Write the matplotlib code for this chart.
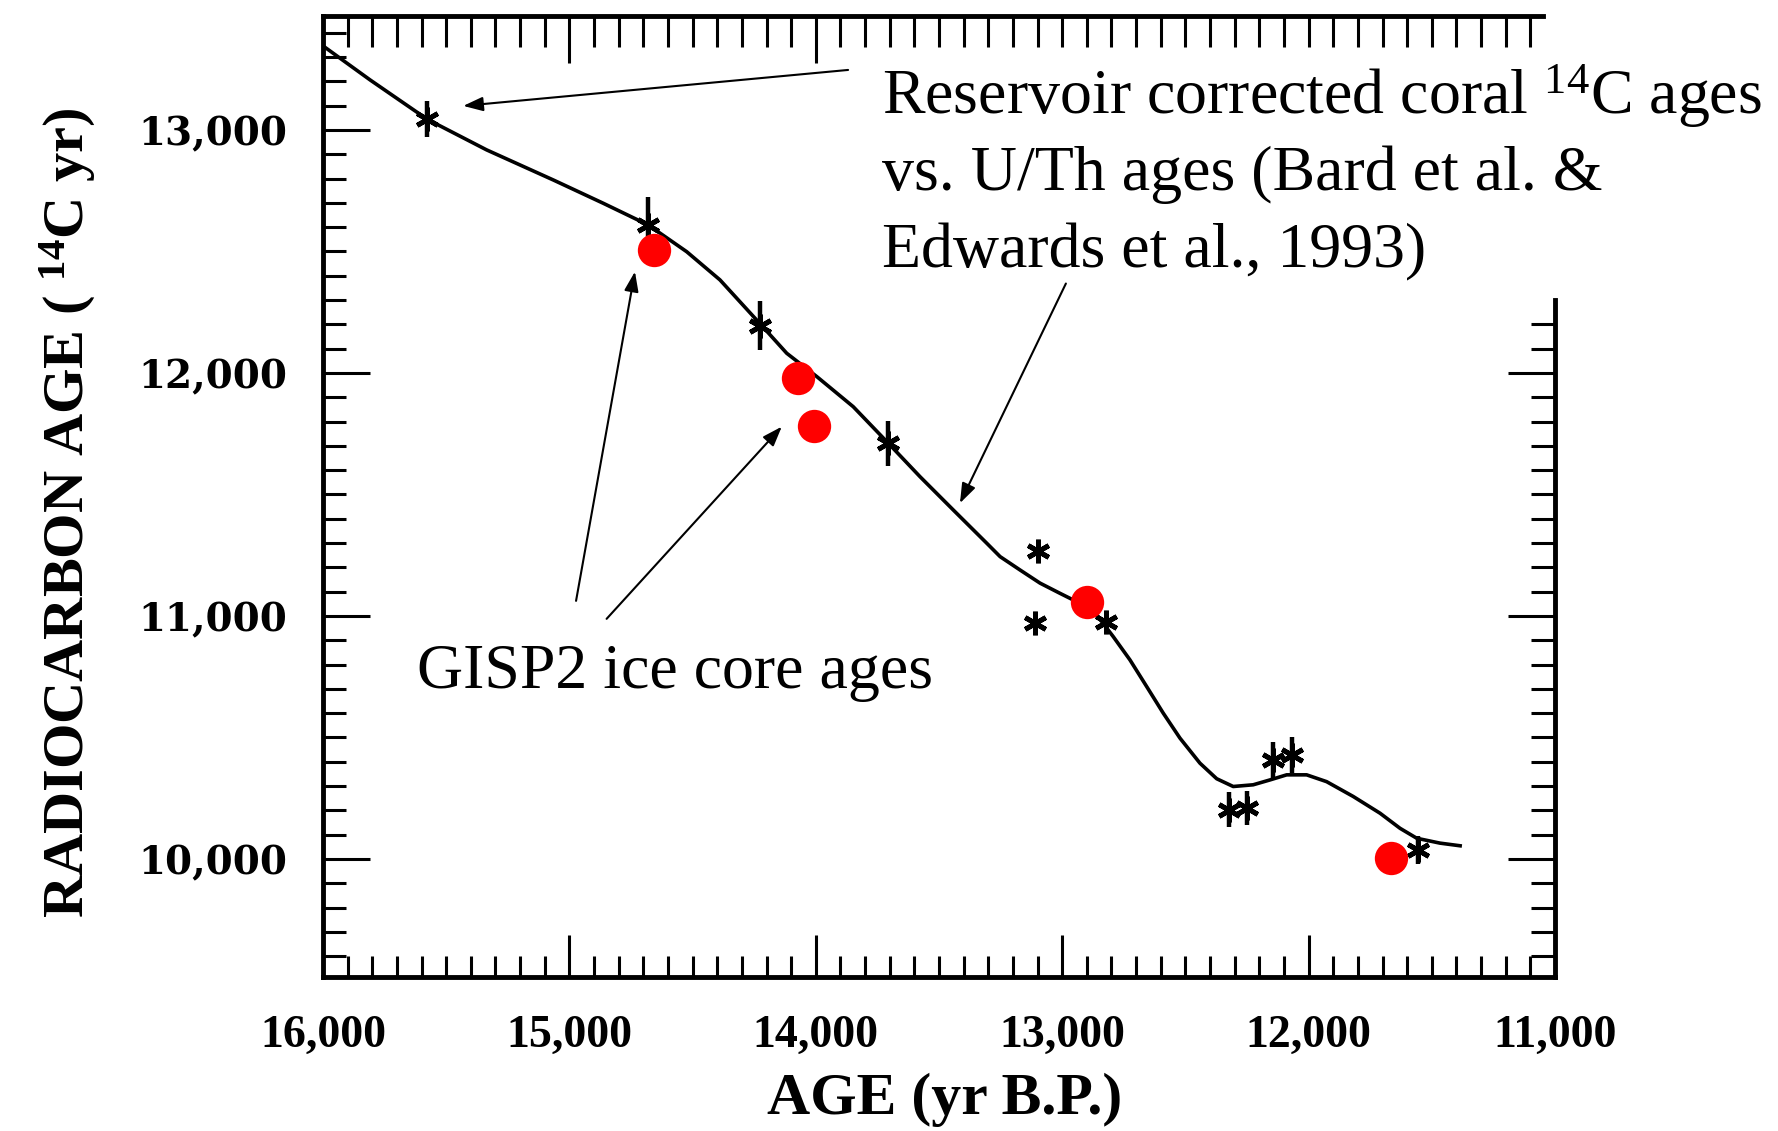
import matplotlib
matplotlib.use('Agg')
import matplotlib.pyplot as plt
from matplotlib.ticker import MultipleLocator, FixedLocator
import numpy as np

plt.rcParams['mathtext.fontset'] = 'custom'
plt.rcParams['mathtext.rm'] = 'Liberation Serif'
plt.rcParams['mathtext.it'] = 'Liberation Serif:italic'
plt.rcParams['mathtext.bf'] = 'Liberation Serif:bold'

# smooth calibration curve
curve_age = [16000, 15809, 15577, 15336, 15065, 14862, 14680, 14524, 14389, 14224,
             14118, 13996, 13848, 13706, 13577, 13442, 13306, 13252, 13171, 13090,
             13009, 12928, 12860, 12793, 12725, 12657, 12590, 12522, 12441, 12373,
             12306, 12225, 12157, 12089, 12008, 11927, 11819, 11710, 11629, 11561,
             11467, 11385]
curve_c14 = [13346, 13206, 13044, 12918, 12794, 12698, 12609, 12499, 12383, 12200,
             12081, 11985, 11861, 11711, 11573, 11436, 11299, 11244, 11189, 11135,
             11093, 11052, 11004, 10915, 10819, 10709, 10600, 10497, 10394, 10330,
             10298, 10305, 10325, 10346, 10346, 10318, 10257, 10188, 10126, 10085,
             10065, 10054]

# coral 14C ages vs U/Th ages
coral_age = [15577, 14680, 14226, 13706, 13097, 13110, 12822, 12322, 12249, 12143, 12069, 11555]
coral_c14 = [13044, 12609, 12195, 11711, 11269, 10970, 10973, 10202, 10209, 10407, 10428, 10037]
coral_err = [75, 115, 100, 93, 0, 0, 0, 72, 70, 75, 75, 58]

# GISP2 ice core ages
gisp_age = [14655, 14071, 14006, 12901, 11667]
gisp_c14 = [12506, 11978, 11782, 11059, 10003]

x_ticks = [16000, 15000, 14000, 13000, 12000, 11000]
x_labels = ['16,000', '15,000', '14,000', '13,000', '12,000', '11,000']
y_ticks = [10000, 11000, 12000, 13000]
y_labels = ['10,000', '11,000', '12,000', '13,000']

W, H = 1778, 1131
fig = plt.figure(figsize=(W / 100, H / 100), dpi=100)
ax = fig.add_axes([323 / W, 1 - 977 / H, (1555 - 323) / W, (977 - 16) / H])

ax.plot(curve_age, curve_c14, color='black', lw=2.6, zorder=2,
        solid_joinstyle='round')
ax.errorbar(coral_age, coral_c14, yerr=coral_err, fmt='none', ecolor='black',
            elinewidth=3.2, capsize=0, zorder=3)
ax.plot(coral_age, coral_c14, ls='none', marker=(6, 2, 0), ms=17, mew=3.5,
        color='black', zorder=3)
ax.plot(gisp_age, gisp_c14, ls='none', marker='o', ms=24, color='#ff0000',
        mec='none', zorder=4)

ax.set_xlim(16000, 11000)
ax.set_ylim(9514, 13469)

# frame
for sp in ax.spines.values():
    sp.set_linewidth(3.5)
ax.spines['right'].set_bounds(9514, 12300)
ax.spines['top'].set_bounds(11050, 16000)

# bottom / left ticks
ax.set_xticks(x_ticks, x_labels)
ax.set_yticks(y_ticks, y_labels)
ax.xaxis.set_minor_locator(MultipleLocator(100))
ax.yaxis.set_minor_locator(MultipleLocator(100))
ax.tick_params(which='both', direction='in', top=False, right=False)
ax.tick_params(axis='x', which='major', length=30, width=2.2, pad=27)
ax.tick_params(axis='x', which='minor', length=15, width=2.2)
ax.tick_params(axis='y', which='major', length=34, width=2.2, pad=26)
ax.tick_params(axis='y', which='minor', length=16.5, width=2.2)
for lab in ax.get_xticklabels():
    lab.set_fontfamily('Liberation Serif')
    lab.set_fontweight('bold')
    lab.set_fontsize(33)
for lab in ax.get_yticklabels():
    lab.set_fontfamily('DejaVu Serif')
    lab.set_fontweight('bold')
    lab.set_fontsize(28)

# top ticks
secx = ax.secondary_xaxis('top')
secx.set_xticks([15000, 14000], ['', ''])
secx.xaxis.set_minor_locator(FixedLocator(np.arange(16000, 11050, -100)))
secx.tick_params(which='both', direction='in', width=2.2)
secx.tick_params(which='major', length=34)
secx.tick_params(which='minor', length=22)
for sp in secx.spines.values():
    sp.set_visible(False)

# right ticks
secy = ax.secondary_yaxis('right')
secy.set_yticks([10000, 11000, 12000], ['', '', ''])
secy.yaxis.set_minor_locator(FixedLocator(np.arange(9600, 12300, 100)))
secy.tick_params(which='both', direction='in', width=2.2)
secy.tick_params(which='major', length=34)
secy.tick_params(which='minor', length=17)
for sp in secy.spines.values():
    sp.set_visible(False)

# axis titles
fig.text(68 / W, 1 - 513 / H, 'RADIOCARBON AGE ( $^{\\mathbf{14}}$C yr)',
         rotation=90, ha='center', va='center', fontsize=42,
         fontfamily='Liberation Serif', fontweight='bold')
fig.text(945 / W, 1 - 1100 / H, 'AGE (yr B.P.)', ha='center', va='center',
         fontsize=43, fontfamily='Liberation Serif', fontweight='bold')

# annotations
arrow_kw = dict(arrowstyle='-|>,head_length=0.5,head_width=0.18', color='black',
                lw=1.5, mutation_scale=24, shrinkA=0, shrinkB=0)
ax.annotate('', xy=(15431, 13099), xytext=(13869, 13247), arrowprops=arrow_kw,
            annotation_clip=False)
ax.annotate('', xy=(13415, 11464), xytext=(12985, 12368), arrowprops=arrow_kw,
            annotation_clip=False)
ax.annotate('', xy=(14734, 12417), xytext=(14973, 11062), arrowprops=arrow_kw,
            annotation_clip=False)
ax.annotate('', xy=(14138, 11779), xytext=(14849, 10988), arrowprops=arrow_kw,
            annotation_clip=False)

txt = dict(fontsize=46, fontfamily='Liberation Serif', va='baseline', ha='left')
fig.text(882 / W, 1 - 113.5 / H, 'Reservoir corrected coral $^{14}$C ages', **txt)
fig.text(882 / W, 1 - 190.5 / H, 'vs. U/Th ages (Bard et al. &', **txt)
fig.text(882 / W, 1 - 267.6 / H, 'Edwards et al., 1993)', **txt)
fig.text(417 / W, 1 - 688 / H, 'GISP2 ice core ages', **txt)

fig.savefig('out.png', dpi=100, facecolor='white')
